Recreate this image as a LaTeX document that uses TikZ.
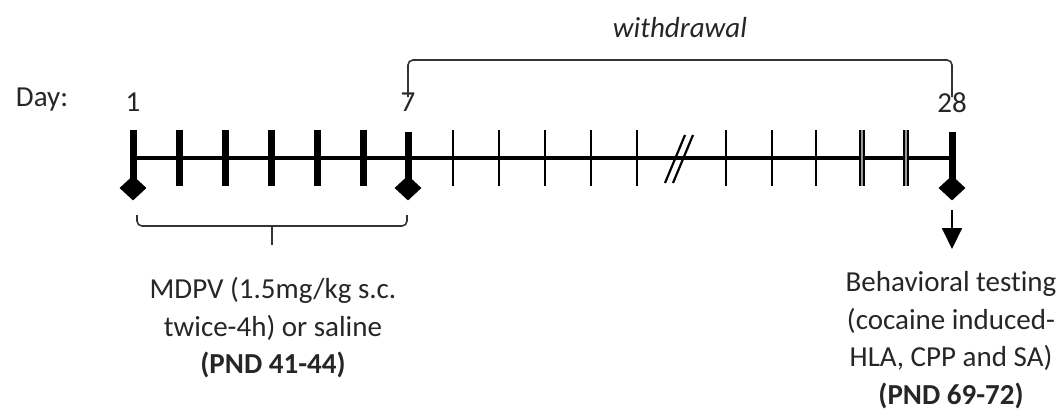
\documentclass[tikz,border=0pt]{standalone}
\usepackage{fontspec}
\setmainfont{Carlito}[Ligatures=NoCommon]
\usetikzlibrary{shapes.geometric,arrows.meta}
\definecolor{txt}{HTML}{262626}
\tikzset{
  lbl/.style={text=txt,inner sep=0pt,font=\fontsize{29}{37.5}\selectfont},
  block/.style={lbl,align=center},
  axis/.style={line width=4pt},
  thicktick/.style={line width=7pt},
  thintick/.style={line width=2.6pt},
  dbltick/.style={line width=1.3pt,double=gray!80,double distance=2.6pt},
  brk/.style={line width=1.6pt,draw=black!80,rounded corners=5pt},
  dia/.style={diamond,fill=black,inner sep=0pt,minimum width=27pt,minimum height=25pt},
  downarrow/.style={line width=2pt,-{Triangle[width=20pt,length=21pt]}}
}
\begin{document}
\begin{tikzpicture}[x=1pt,y=-1pt]
\useasboundingbox (0,0) rectangle (1063,410);
% tick coordinates
\foreach \n/\x in {a/133,b/179,c/225,d/271,e/317,f/363,g/408,h/453,i/499,j/545,k/591,l/637,m/726,n/772,o/816,p/862,q/906,r/952}{
  \coordinate (top\n) at (\x,130);
  \coordinate (bot\n) at (\x,186);
}
% main axis
\draw[axis] (133,158) coordinate (axL) -- (952,158) coordinate (axR);
% thick ticks
\foreach \n in {b,c,d,e,f}{\draw[thicktick] (top\n) -- (bot\n);}
% thin ticks
\foreach \n in {h,i,j,k,l,m,n,o}{\draw[thintick] (top\n) -- (bot\n);}
% double ticks
\foreach \n in {p,q}{\draw[dbltick] (top\n) -- (bot\n);}
% break mark
\coordinate (s1a) at (665,183); \coordinate (s1b) at (685,135);
\coordinate (s2a) at (673,183); \coordinate (s2b) at (693,135);
\draw[line width=2.2pt] (s1a) -- (s1b);
\draw[line width=2.2pt] (s2a) -- (s2b);
% diamonds
\node[dia] (d1) at (133,188) {};
\node[dia] (d7) at (408,188) {};
\node[dia] (d28) at (952,188) {};
\draw[thicktick] (133,130) -- (d1.center);
\draw[thicktick] (408,132) -- (d7.center);
\draw[thicktick] (952,132) -- (d28.center);
% labels
\node[lbl] (day) at (42,100) {Day:};
\node[lbl] (n1) at (133,102) {1};
\node[lbl] (n7) at (408,102) {7};
\node[lbl] (n28) at (952,103) {28};
\node[lbl,font=\fontsize{29}{37.5}\selectfont\itshape] (wd) at (680,28) {withdrawal};
% withdrawal bracket
\draw[brk] (408,97) -- (408,60) -- (952,60) -- (952,97);
% bottom brace
\coordinate (bm) at (272,226);
\draw[brk] (137,215) -- (137,226) -- (407,226) -- (407,215);
\coordinate (bt) at (272,245);
\draw[line width=1.6pt,draw=black!80] (bm) -- (bt);
% arrow
\coordinate (as) at (952,210);
\coordinate (ae) at (952,249);
\draw[downarrow] (as) -- (ae);
% text blocks
\node[block] (mdpv) at (273,328) {MDPV (1.5mg/kg s.c.\\twice-4h) or saline\\\textbf{(PND 41-44)}};
\node[block] (beh) at (951,340) {Behavioral testing\\(cocaine induced-\\HLA, CPP and SA)\\\textbf{(PND 69-72)}};
\end{tikzpicture}
\end{document}
